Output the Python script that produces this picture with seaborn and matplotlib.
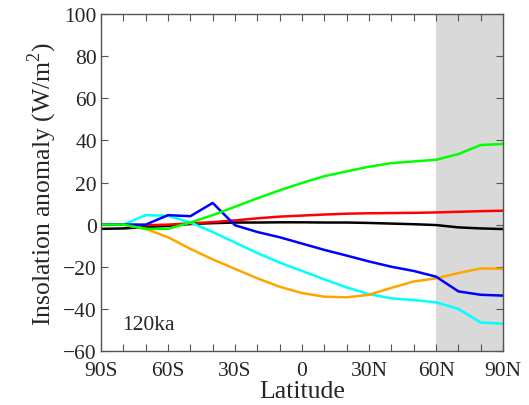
import numpy as np
import pandas as pd
import matplotlib
matplotlib.use("Agg")
import matplotlib.pyplot as plt
import seaborn as sns

lat = [-90, -80, -70, -60, -50, -40, -30, -20, -10, 0, 10, 20, 30, 40, 50, 60, 70, 80, 90]
black = [-2.0, -1.8, -1.2, -0.6, 0.3, 0.7, 1.0, 1.0, 1.1, 1.1, 1.0, 1.0, 0.8, 0.5, 0.2, -0.2, -1.3, -1.8, -2.1]
red = [0, 0, -0.3, 0, 0.6, 1.2, 2.0, 3.0, 3.8, 4.3, 4.8, 5.2, 5.4, 5.5, 5.6, 5.8, 6.1, 6.4, 6.6]
cyan = [0, 0, 4.5, 4.2, 1.0, -3.5, -8.5, -13.5, -18.0, -22.0, -26.0, -29.8, -33.0, -35.0, -35.8, -36.9, -40.0, -46.5, -47.0]
orange = [0, 0, -2.0, -6.0, -11.5, -16.5, -21.0, -25.5, -29.5, -32.5, -34.2, -34.5, -33.3, -30.0, -27.0, -25.5, -23.0, -20.8, -21.0]
blue = [0, 0, 0, 4.5, 4.0, 10.3, -0.3, -3.5, -6.0, -9.0, -12.0, -14.7, -17.5, -20.0, -22.0, -24.7, -31.7, -33.3, -33.7]
green = [0, 0, -2.0, -2.0, 1.0, 4.5, 8.5, 12.5, 16.3, 19.8, 23.0, 25.3, 27.5, 29.2, 30.0, 30.8, 33.5, 37.8, 38.3]

series = {"black": black, "red": red, "cyan": cyan, "orange": orange, "blue": blue, "green": green}
colors = {"black": "#000000", "red": "#ff0000", "cyan": "#00ffff", "orange": "#ffa500", "blue": "#0000ff", "green": "#00ff00"}
xtick_vals = [-90, -60, -30, 0, 30, 60, 90]
xtick_labels = ["90S", "60S", "30S", "0", "30N", "60N", "90N"]

rows = []
for name, vals in series.items():
    for x, y in zip(lat, vals):
        rows.append({"lat": x, "val": y, "series": name})
df = pd.DataFrame(rows)

sns.set_style("ticks")
plt.rcParams["font.family"] = ["Liberation Serif", "DejaVu Serif"]
plt.rcParams["mathtext.fontset"] = "custom"
plt.rcParams["mathtext.rm"] = "Liberation Serif"

fig = plt.figure(figsize=(5.29, 4.06), dpi=100)
ax = fig.add_axes([0.191, 0.133, 0.76, 0.830])
ax.axvspan(60, 90, color="#d9d9d9", zorder=0, lw=0)
sns.lineplot(data=df, x="lat", y="val", hue="series", palette=colors, ax=ax,
             legend=False, linewidth=1.8, sort=False)

ax.set_xlim(-90, 90)
ax.set_ylim(-60, 100)
ax.set_xticks(np.arange(-90, 91, 10), minor=True)
ax.set_xticks(xtick_vals)
ax.set_xticklabels(xtick_labels)
ax.set_yticks(np.arange(-60, 101, 20))
ax.set_yticklabels([str(v).replace("-", "\u2212") for v in range(-60, 101, 20)])
ax.tick_params(axis="both", which="both", direction="in", top=True, right=True,
               length=5, width=0.8, color="#555555", labelsize=15.5, pad=3)
ax.tick_params(axis="x", which="both", pad=7)
ax.set_xlabel("Latitude", fontsize=18.5, labelpad=0)
ax.set_ylabel("Insolation anomaly (W/m$^2$)", fontsize=18.5, labelpad=3)
for s in ax.spines.values():
    s.set_color("#555555")
    s.set_linewidth(1.0)
ax.text(-80.5, -47.3, "120ka", fontsize=15.5, va="center", ha="left")

fig.savefig("out.png", dpi=100)
